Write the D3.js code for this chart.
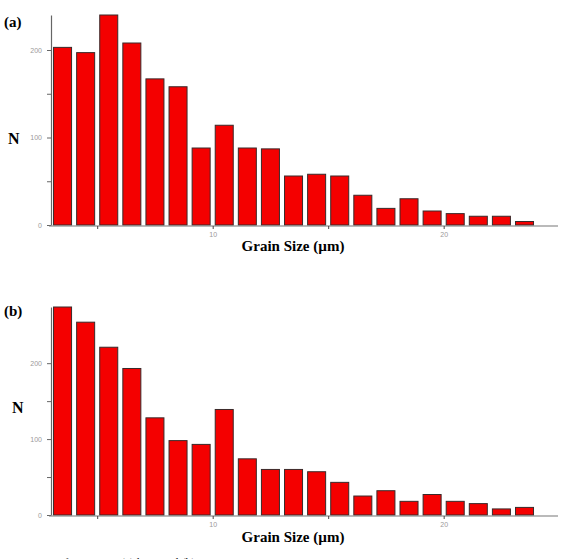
<!DOCTYPE html>
<html><head><meta charset="utf-8">
<script src="https://cdn.jsdelivr.net/npm/d3@7"></script>
<style>
html,body{margin:0;padding:0;background:#fff;}
svg{display:block;}
</style></head>
<body>
<svg id="c" width="567" height="559"></svg>
<script>
// Data
const binStarts = [3,4,5,6,7,8,9,10,11,12,13,14,15,16,17,18,19,20,21,22,23];
const countsA = [203,197,240,208,167,158,88,114,88,87,56,58,56,34,19,30,16,13,10,10,4];
const countsB = [274,254,221,193,128,98,93,139,74,60,60,57,43,25,32,18,27,18,15,8,10];
const xTickLabels = [10, 20];
const xMinorTicks = [5, 15];
const yTickLabels = [0, 100, 200];
const yMinorTicks = [50, 150];
const panelLabels = ["(a)", "(b)"];
const xTitle = "Grain Size (µm)";
const yTitle = "N";
const caption = "Histograms of grain size (a) base and (b) FSP";

const svg = d3.select("#c");

function panel(counts, cfg){
  const g = svg.append("g");
  const x = d3.scaleLinear().domain([3, 24.95]).range([51, 558]);
  const y = d3.scaleLinear().domain([0, d3.max(counts)]).range([cfg.y0, cfg.yTop]);
  const bw = 0.78;
  // bars
  g.selectAll("rect.bar").data(binStarts.map((b,i)=>({b, v:counts[i]})))
    .enter().append("rect")
    .attr("x", d => x(d.b + 0.5 - bw/2))
    .attr("width", d => x(d.b + 0.5 + bw/2) - x(d.b + 0.5 - bw/2))
    .attr("y", d => y(d.v))
    .attr("height", d => y(0) - y(d.v))
    .attr("fill", "#f40000")
    .attr("stroke", "#3a2a2a")
    .attr("stroke-width", 1);
  // y axis
  const yAxis = d3.axisLeft(y).tickValues(yTickLabels.concat(yMinorTicks))
    .tickFormat(d => yTickLabels.includes(d) ? d : "")
    .tickSize(4).tickSizeOuter(0).tickPadding(5);
  const ya = g.append("g").attr("transform", "translate(51,0)").call(yAxis);
  ya.select(".domain").attr("stroke", "#666").attr("stroke-width", 1.2);
  ya.selectAll(".tick line").attr("stroke", "#666");
  ya.selectAll(".tick text").attr("fill", "#999").style("font-family", "Arial, sans-serif").style("font-size", "7px");
  // x axis
  const xAxis = d3.axisBottom(x).tickValues(xTickLabels.concat(xMinorTicks))
    .tickFormat(d => xTickLabels.includes(d) ? d : "")
    .tickSize(3).tickSizeOuter(0).tickPadding(3);
  const xa = g.append("g").attr("transform", `translate(0,${cfg.y0 + 1})`).call(xAxis);
  xa.select(".domain").attr("stroke", "#777").attr("stroke-width", 1.2)
    .attr("d", `M49,0H558`);
  xa.selectAll(".tick line").attr("stroke", "#444");
  xa.selectAll(".tick text").attr("fill", "#999").style("font-family", "Arial, sans-serif").style("font-size", "7px");
  // labels
  g.append("text").attr("x", 4).attr("y", cfg.labelY).text(cfg.label)
    .style("font-family", "'Liberation Serif', 'Times New Roman', serif").style("font-weight", "bold").style("font-size", "15px");
  g.append("text").attr("x", cfg.nX).attr("y", cfg.nY).text(yTitle)
    .style("font-family", "'Liberation Serif', 'Times New Roman', serif").style("font-weight", "bold").style("font-size", "16px");
  g.append("text").attr("x", 293).attr("y", cfg.titleY).attr("text-anchor", "middle").text(xTitle)
    .style("font-family", "'Liberation Serif', 'Times New Roman', serif").style("font-weight", "bold").style("font-size", "15px");
}

panel(countsA, {y0: 225, yTop: 15, label: panelLabels[0], labelY: 27, nX: 8, nY: 144, titleY: 251});
panel(countsB, {y0: 515, yTop: 307, label: panelLabels[1], labelY: 316, nX: 12, nY: 413, titleY: 542});

svg.append("text").attr("x", 0).attr("y", 567).text(caption)
  .style("font-family", "'Liberation Serif', 'Times New Roman', serif").style("font-size", "12px").attr("fill", "#222");
</script>
</body></html>
